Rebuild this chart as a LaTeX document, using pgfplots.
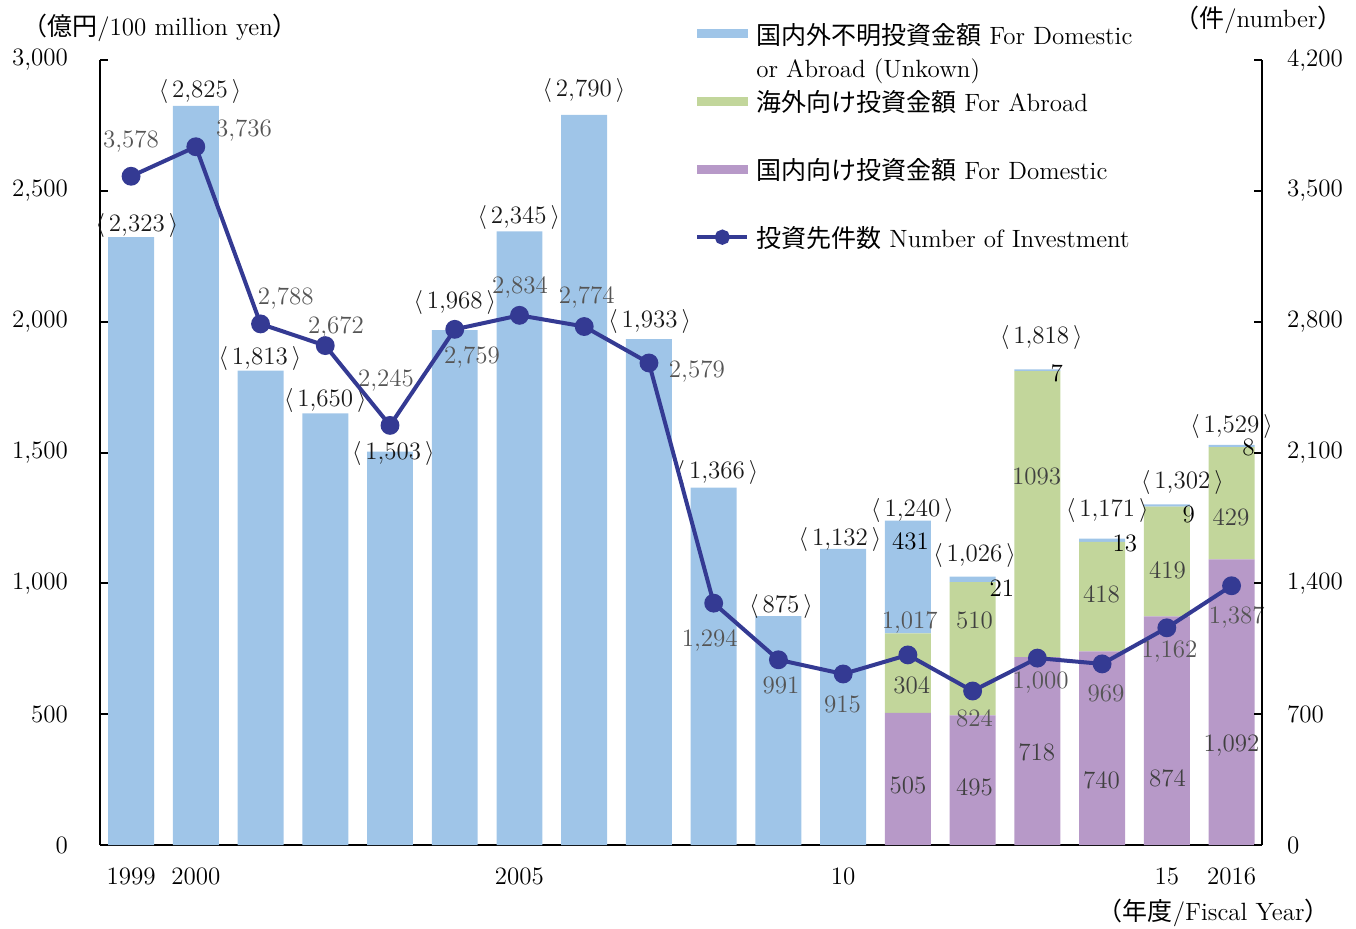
\documentclass[border=0pt]{standalone}
\usepackage{pgfplots}
\usepackage{pgfplotstable}
\usepackage{fontspec}
\pgfplotsset{compat=1.18}
\newfontfamily\cjk{Noto Sans CJK JP}
\definecolor{cUnk}{RGB}{159,197,232}
\definecolor{cAbr}{RGB}{194,214,155}
\definecolor{cDom}{RGB}{183,153,200}
\definecolor{cLine}{RGB}{52,58,147}
\definecolor{cGrayTxt}{RGB}{85,85,85}
\definecolor{cSegTxt}{RGB}{64,64,64}
\newcommand{\ang}[1]{$\langle$\hspace{2pt}#1\hspace{2pt}$\rangle$}

\pgfplotstableread{
x dom abr unk
0 0 0 2323
1 0 0 2825
2 0 0 1813
3 0 0 1650
4 0 0 1503
5 0 0 1968
6 0 0 2345
7 0 0 2790
8 0 0 1933
9 0 0 1366
10 0 0 875
11 0 0 1132
12 505 304 431
13 495 510 21
14 718 1093 7
15 740 418 13
16 874 419 9
17 1092 429 8
}\bars

\pgfplotstableread{
x n
0 3578
1 3736
2 2788
3 2672
4 2245
5 2759
6 2834
7 2774
8 2579
9 1294
10 991
11 915
12 1017
13 824
14 1000
15 969
16 1162
17 1387
}\cases

% total labels (positions in left-axis units)
\pgfplotstableread{
x y lab
0.09 2369 2,323
1.065 2878 2,825
1.99 1861 1,813
3.0 1697 1,650
4.05 1498 1,503
5.0 2075 1,968
5.99 2400 2,345
6.995 2885 2,790
8.01 1999 1,933
9.05 1422 1,366
10.04 913 875
10.95 1166 1,132
12.07 1280 1,240
13.03 1108 1,026
14.06 1938 1,818
15.08 1280 1,171
16.24 1387 1,302
17.0 1601 1,529
}\totlab

% line value labels (positions in left-axis units)
\pgfplotstableread{
x y lab
0 2687 3,578
1.745 2732 3,736
2.39 2087 2,788
3.166 1976 2,672
3.937 1777 2,245
5.266 1865 2,759
6.007 2129 2,834
7.04 2094 2,774
8.74 1808 2,579
8.94 783 1,294
10.04 611 991
10.99 539 915
12.03 852 1,017
13.03 485 824
14.05 619 1,000
15.06 581 969
16.04 738 1,162
17.08 871 1,387
}\linelab

% segment labels
\pgfplotstableread{
x y lab
12.06 611 304
12.0 229 505
13.03 860 510
13.03 222 495
13.99 1410 1093
13.99 355 718
14.99 959 418
14.99 248 740
16.01 1051 419
16.01 256 874
16.99 1253 429
17.0 378 1,092
}\seglab

\pgfplotstableread{
x y lab
12.04 1162 431
13.45 982 21
14.3 1804 7
15.35 1154 13
16.34 1265 9
17.26 1521 8
}\toplab

\begin{document}
\begin{tikzpicture}
\pgfplotsset{
  base/.style={
    scale only axis, width=581pt, height=392.5pt,
    xmin=-0.48, xmax=17.47,
    tick label style={font=\fontsize{12.5}{15}\selectfont},
  },
}
% ---------- bars, left axis
\begin{axis}[base,
  /pgf/number format/assume math mode=true,
  /pgf/number format/1000 sep={,},
  ymin=0, ymax=3000,
  axis x line*=bottom, axis y line*=left,
  axis line style={line width=1pt},
  ytick={0,500,...,3000},
  xtick={0,1,6,11,16,17},
  xticklabels={1999,2000,2005,10,15,2016},
  x tick style={draw=none},
  y tick style={line width=1pt, black},
  major tick length=4pt,
  tick align=inside,
  yticklabel style={xshift=-12.5pt},
  xticklabel style={yshift=-8pt},
  ybar stacked, bar width=0.71,
]
\addplot[fill=cDom, draw=none] table[x=x,y=dom]{\bars};
\addplot[fill=cAbr, draw=none] table[x=x,y=abr]{\bars};
\addplot[fill=cUnk, draw=none] table[x=x,y=unk]{\bars};
\end{axis}
% ---------- labels, left scale
\begin{axis}[base, ymin=0, ymax=3000, hide axis, clip=false]
\addplot[only marks, mark=none, point meta=explicit symbolic,
  nodes near coords={\ang{\pgfplotspointmeta}},
  every node near coord/.append style={anchor=center, inner sep=0pt, text=black!90,
    font=\fontsize{12.5}{15}\selectfont}]
  table[x=x,y=y,meta=lab]{\totlab};
\addplot[only marks, mark=none, point meta=explicit symbolic,
  nodes near coords,
  every node near coord/.append style={anchor=center, inner sep=0pt, text=cGrayTxt,
    font=\fontsize{12.5}{15}\selectfont}]
  table[x=x,y=y,meta=lab]{\linelab};
\addplot[only marks, mark=none, point meta=explicit symbolic,
  nodes near coords,
  every node near coord/.append style={anchor=center, inner sep=0pt, text=cSegTxt,
    font=\fontsize{12.5}{15}\selectfont}]
  table[x=x,y=y,meta=lab]{\seglab};
\addplot[only marks, mark=none, point meta=explicit symbolic,
  nodes near coords,
  every node near coord/.append style={anchor=center, inner sep=0pt, text=black,
    font=\fontsize{12.5}{15}\selectfont}]
  table[x=x,y=y,meta=lab]{\toplab};
\end{axis}
% ---------- line, right axis
\begin{axis}[base,
  /pgf/number format/assume math mode=true,
  /pgf/number format/1000 sep={,},
  ymin=0, ymax=4200,
  axis x line=none, axis y line*=right,
  axis line style={line width=1pt},
  ytick={0,700,...,4200},
  y tick style={line width=1pt, black},
  major tick length=4pt,
  tick align=inside,
  yticklabel style={xshift=9pt},
  legend style={at={(0.512,1.051)}, anchor=north west, draw=none, fill=none,
    inner sep=0pt, row sep=20.5pt, column sep=3.5pt,
    nodes={inner sep=0pt, font=\fontsize{12.5}{17}\selectfont},
    cells={anchor=west}},
  legend cell align=left,
]
\addlegendimage{legend image code/.code={\fill[cUnk] (0pt,-2pt) rectangle (25pt,2pt);}}
\addlegendentry{\smash{\rlap{\raisebox{-16.5pt}{or Abroad (Unkown)}}}\strut{\cjk 国内外不明投資金額} For Domestic}
\addlegendimage{legend image code/.code={\fill[cAbr] (0pt,-2pt) rectangle (25pt,2pt);}}
\addlegendentry{\strut{\cjk 海外向け投資金額} For Abroad}
\addlegendimage{legend image code/.code={\fill[cDom] (0pt,-2pt) rectangle (25pt,2pt);}}
\addlegendentry{\strut{\cjk 国内向け投資金額} For Domestic}
\addplot[cLine, line width=2pt, mark=*, mark size=3.7pt,
  legend image code/.code={\draw[cLine, line width=2pt] (0pt,0pt) -- (25pt,0pt);
    \fill[cLine] (12.5pt,0pt) circle (2.8pt);}]
  table[x=x,y=n]{\cases};
\addlegendentry{\strut{\cjk 投資先件数} Number of Investment}
\end{axis}
% axis titles
\node[anchor=west, font=\fontsize{12.5}{15}\selectfont, inner sep=0pt] at (-39pt,408.5pt)
  {{\cjk （億円}/100 million yen{\cjk ）}};
\node[anchor=east, font=\fontsize{12.5}{15}\selectfont, inner sep=0pt] at (621.5pt,412.5pt)
  {{\cjk （件}/number{\cjk ）}};
\node[anchor=east, font=\fontsize{12.5}{15}\selectfont, inner sep=0pt] at (615pt,-34pt)
  {{\cjk （年度}/Fiscal Year{\cjk ）}};
\pgfresetboundingbox
\path[use as bounding box] (-50pt,-41.5pt) rectangle (628pt,422.5pt);
\end{tikzpicture}
\end{document}
